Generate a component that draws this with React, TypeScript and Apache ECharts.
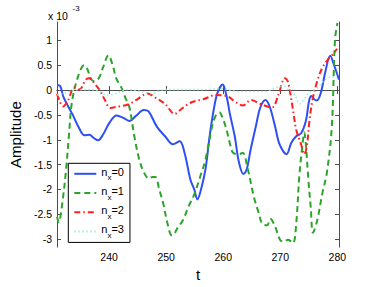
import React, { useEffect, useRef } from "react";
import * as echarts from "echarts";

// [t, amplitude (x1e-3)]
const n0: [number, number][] = [
  [230.87, 0.1], [231.43, 0.08], [231.94, -0.12], [232.79, -0.32], [233.64, -0.5], [234.67, -0.75],
  [235.69, -0.91], [236.54, -0.9], [237.39, -0.97], [238.07, -1.01], [238.92, -0.9], [240.11, -0.65],
  [241.31, -0.51], [242.5, -0.56], [243.52, -0.62], [244.71, -0.52], [246.07, -0.4], [246.92, -0.43],
  [248.4, -0.74], [249.81, -0.93], [251.18, -1.09], [252.37, -1.03], [253.22, -1.26], [254.24, -1.8],
  [254.92, -2.0], [255.48, -2.2], [256.11, -2.0], [256.91, -1.58], [257.65, -0.9], [258.33, -0.4],
  [259.01, -0.05], [259.91, 0.11], [260.54, -0.1], [261.17, -0.48], [262.02, -0.93], [262.75, -1.45],
  [263.55, -1.69], [264.11, -1.6], [264.8, -1.2], [265.7, -0.74], [266.5, -0.35], [267.4, -0.2],
  [268.2, -0.35], [269.1, -0.74], [269.9, -1.1], [271.09, -1.29], [271.94, -1.06], [272.79, -0.93],
  [273.65, -0.87], [274.5, -0.61], [275.06, -0.21], [275.47, -0.12], [275.91, -0.18], [276.37, -0.21],
  [277.05, -0.08], [277.9, 0.37], [278.75, 0.69], [279.43, 0.5], [280.29, 0.21],
];

const n1: [number, number][] = [
  [230.87, -2.55], [231.18, -2.66], [231.77, -2.3], [232.46, -1.6], [232.97, -0.9], [233.48, -0.25],
  [234.5, 0.25], [235.64, 0.5], [236.2, 0.42], [236.76, 0.24], [237.34, 0.18], [238.19, 0.24],
  [238.92, 0.45], [239.89, 0.7], [240.62, 0.5], [241.31, 0.22], [242.16, 0.05], [242.84, -0.15],
  [243.57, -0.35], [244.03, -0.65], [244.42, -0.93], [245.27, -1.39], [246.07, -1.65], [246.97, -1.78],
  [247.6, -1.75], [248.11, -1.75], [248.79, -2.0], [249.53, -2.3], [250.16, -2.65], [250.96, -2.92],
  [251.23, -2.92], [251.86, -2.8], [252.93, -2.62], [253.9, -2.35], [254.92, -2.1], [255.94, -1.75],
  [256.91, -1.39], [258.03, -0.74], [258.66, -0.52], [259.35, -0.45], [259.86, -0.55], [260.59, -0.8],
  [261.22, -1.1], [261.73, -1.26], [262.87, -1.29], [263.43, -1.26], [264.28, -1.58], [265.42, -2.17],
  [266.16, -2.45], [266.84, -2.69], [267.69, -2.72], [268.25, -2.59], [269.1, -2.75], [269.95, -3.01],
  [270.58, -3.05], [271.38, -3.01], [272.23, -3.08], [272.79, -2.69], [273.35, -1.71], [273.93, -1.06],
  [274.2, -0.85], [274.49, -1.1], [274.92, -1.8], [275.34, -2.36], [275.73, -2.87], [276.48, -2.62],
  [277.33, -2.1], [278.18, -1.65], [279.03, -0.74], [279.59, 1.02], [280.02, 1.35],
];

const n2: [number, number][] = [
  [230.87, -0.08], [231.09, -0.15], [231.94, -0.33], [232.79, -0.21], [233.93, 0.05], [234.78, 0.01],
  [235.91, 0.21], [236.48, 0.24], [237.61, 0.11], [238.46, -0.02], [239.31, -0.21], [240.17, -0.36],
  [241.59, -0.33], [243.3, -0.29], [245.0, -0.18], [246.7, -0.07], [248.11, -0.15], [249.81, -0.28],
  [251.52, -0.48], [252.66, -0.38], [254.36, -0.25], [256.62, -0.18], [258.61, -0.1], [260.59, -0.12],
  [262.29, -0.25], [263.43, -0.31], [264.84, -0.2], [266.55, -0.28], [268.54, -0.35], [269.68, -0.09],
  [270.8, 0.24], [271.3, 0.18], [271.8, -0.1], [272.3, -0.45], [272.79, -0.8], [273.65, -1.09],
  [274.2, -1.29], [274.66, -1.13], [275.06, -0.67], [275.63, -0.21], [276.48, 0.18], [277.33, 0.44],
  [278.45, 0.63], [279.25, 0.72], [279.93, 0.83],
];

const n3: [number, number][] = [
  [230.87, -0.1], [231.6, -0.08], [232.51, -0.05], [233.64, -0.01], [234.78, 0.01], [236.48, 0.01],
  [238.19, -0.02], [239.6, -0.1], [240.62, -0.09], [241.59, -0.05], [243.3, 0.01], [245.56, -0.03],
  [247.26, -0.07], [249.81, 0.01], [253.22, 0.01], [256.62, 0.01], [259.46, 0.03], [262.87, -0.03],
  [264.84, -0.03], [267.12, -0.03], [269.39, 0.05], [270.58, 0.08], [271.38, 0.01], [272.51, -0.09],
  [273.35, -0.28], [274.2, -0.18], [275.06, -0.05], [276.48, 0.04], [277.6, 0.18], [279.03, 0.27],
  [279.88, 0.24],
];

const seriesNames = ["n_x=0", "n_x=1", "n_x=2", "n_x=3"];
const xTicks = [240, 250, 260, 270, 280];
const yTicks = [-3, -2.5, -2, -1.5, -1, -0.5, 0, 0.5, 1];

const FONT = "'Liberation Sans', Arial, Helvetica, sans-serif";

export default function App() {
  const ref = useRef<HTMLDivElement>(null);
  useEffect(() => {
    if (!ref.current) return;
    const chart = echarts.init(ref.current, null, { renderer: "svg" });
    const axisLineStyle = { color: "#4d4d4d", width: 1 };
    const tickStyle = { color: "#4d4d4d", width: 1 };
    const xMin = 230.87;
    const xMax = 280.29;
    const yMin = -3.16;
    const yMax = 1.37;
    const mk = (name: string, data: [number, number][], color: string, type: any, width: number) => ({
      name,
      type: "line",
      data,
      showSymbol: false,
      symbol: "none",
      smooth: 0.35,
      lineStyle: { color, type, width },
      itemStyle: { color },
    });
    chart.setOption({
      animation: false,
      backgroundColor: "#fff",
      textStyle: { fontFamily: FONT },
      grid: { left: 48.7, right: 35, top: 22, bottom: 33, containLabel: false },
      xAxis: [
        {
          type: "value",
          min: xMin,
          max: xMax,
          position: "bottom",
          name: "t",
          nameLocation: "middle",
          nameGap: 17,
          nameTextStyle: { fontSize: 15, color: "#000", fontFamily: FONT },
          axisLine: { show: true, lineStyle: axisLineStyle },
          axisTick: { show: true, inside: true, length: 4, lineStyle: tickStyle, customValues: xTicks },
          axisLabel: {
            show: true,
            customValues: xTicks,
            margin: 4,
            fontSize: 10.5,
            color: "#000",
            fontFamily: FONT,
            align: "center",
            verticalAlign: "top",
          },
          splitLine: { show: false },
        },
        {
          type: "value",
          min: xMin,
          max: xMax,
          position: "top",
          axisLine: { show: true, lineStyle: axisLineStyle },
          axisTick: { show: true, inside: true, length: 4, lineStyle: tickStyle, customValues: xTicks },
          axisLabel: { show: false },
          splitLine: { show: false },
        },
      ],
      yAxis: [
        {
          type: "value",
          min: yMin,
          max: yMax,
          position: "left",
          name: "Amplitude",
          nameLocation: "middle",
          nameGap: 29,
          nameTextStyle: { fontSize: 15, color: "#000", fontFamily: FONT },
          axisLine: { show: true, lineStyle: axisLineStyle },
          axisTick: { show: true, inside: true, length: 4, lineStyle: tickStyle, customValues: yTicks },
          axisLabel: {
            show: true,
            customValues: yTicks,
            margin: 5,
            fontSize: 10.5,
            color: "#000",
            fontFamily: FONT,
            align: "right",
            verticalAlign: "middle",
            formatter: (v: number) => String(v),
          },
          splitLine: { show: false },
        },
        {
          type: "value",
          min: yMin,
          max: yMax,
          position: "right",
          axisLine: { show: true, lineStyle: axisLineStyle },
          axisTick: { show: true, inside: true, length: 4, lineStyle: tickStyle, customValues: yTicks },
          axisLabel: { show: false },
          splitLine: { show: false },
        },
      ],
      legend: {
        show: true,
        orient: "vertical",
        left: 68.3,
        top: 163.3,
        padding: [3, 6, 3, 5],
        itemGap: 3.7,
        itemWidth: 22,
        itemHeight: 10,
        borderColor: "#000",
        borderWidth: 1,
        backgroundColor: "#fff",
        borderRadius: 0,
        itemStyle: { color: "rgba(0,0,0,0)", borderColor: "rgba(0,0,0,0)", borderWidth: 0, opacity: 0 },
        data: seriesNames,
        formatter: (name: string) => {
          const k = name.split("=")[1];
          return `{n|n}{s|x}{n|=${k}}`;
        },
        textStyle: {
          color: "#000",
          fontFamily: FONT,
          rich: {
            n: { fontSize: 11, padding: [0, 0, 4, 0], color: "#000", fontFamily: FONT },
            s: { fontSize: 8, padding: [8, 0, 0, 0], color: "#000", fontFamily: FONT },
          },
        },
      },
      graphic: [
        { type: "text", x: 48, y: 10, style: { text: "x 10", fontSize: 10.5, fontFamily: FONT, fill: "#000" } },
        { type: "text", x: 72.5, y: 4.5, style: { text: "-3", fontSize: 8, fontFamily: FONT, fill: "#000" } },
      ],
      series: [
        mk(seriesNames[0], n0, "#2f4ff5", "solid", 2),
        mk(seriesNames[1], n1, "#2aa52a", [6, 4], 2),
        mk(seriesNames[2], n2, "#ff1f1f", [6, 3, 1.5, 3], 2),
        mk(seriesNames[3], n3, "#95f2d6", [1.5, 2.5], 1.6),
      ],
    });
    return () => chart.dispose();
  }, []);
  return <div ref={ref} style={{ width: 374, height: 287, position: "absolute", left: 0, top: 0 }} />;
}
